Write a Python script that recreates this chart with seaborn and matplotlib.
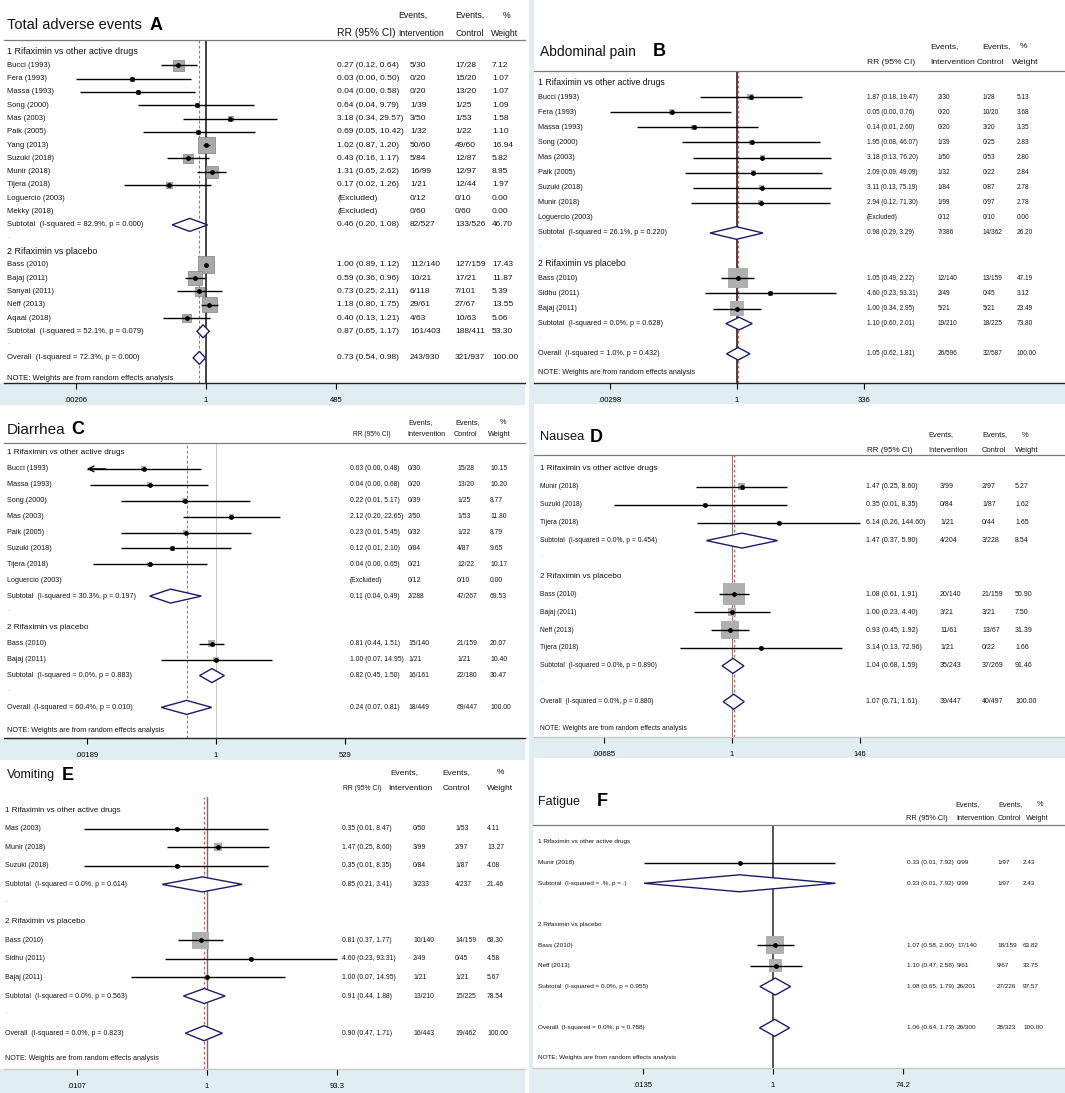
import numpy as np
import matplotlib
matplotlib.use("Agg")
import matplotlib.pyplot as plt
import matplotlib.transforms as mtransforms
from matplotlib.patches import Polygon, Rectangle
from matplotlib.ticker import NullLocator, FixedLocator, FixedFormatter
import seaborn as sns

sns.set_style("white")
plt.rcParams['font.family'] = ['Liberation Sans', 'DejaVu Sans']

W, H = 1065, 1093

HEADINGS = ["1 Rifaximin vs other active drugs", "2 Rifaximin vs placebo"]
NOTE = "NOTE: Weights are from random effects analysis"

# ---------------- A: Total adverse events ----------------
A_STUDIES = ["Bucci (1993)", "Fera (1993)", "Massa (1993)", "Song (2000)", "Mas (2003)", "Paik (2005)",
             "Yang (2013)", "Suzuki (2018)", "Munir (2018)", "Tijera (2018)", "Loguercio (2003)",
             "Mekky (2018)", "Bass (2010)", "Bajaj (2011)", "Sanyal (2011)", "Neff (2013)", "Aqaal (2018)"]
A_N1 = 12
A_RR = [0.27, 0.03, 0.04, 0.64, 3.18, 0.69, 1.02, 0.43, 1.31, 0.17, None, None, 1.00, 0.59, 0.73, 1.18, 0.40]
A_LO = [0.12, 0.0021, 0.0025, 0.04, 0.34, 0.05, 0.87, 0.16, 0.65, 0.02, None, None, 0.89, 0.36, 0.25, 0.80, 0.13]
A_HI = [0.64, 0.50, 0.58, 9.79, 29.57, 10.42, 1.20, 1.17, 2.62, 1.26, None, None, 1.12, 0.96, 2.11, 1.75, 1.21]
A_INT = ["5/30", "0/20", "0/20", "1/39", "3/50", "1/32", "50/60", "5/84", "16/99", "1/21", "0/12", "0/60",
         "112/140", "10/21", "6/118", "29/61", "4/63"]
A_CTL = ["17/28", "15/20", "13/20", "1/25", "1/53", "1/22", "49/60", "12/87", "12/97", "12/44", "0/10", "0/60",
         "127/159", "17/21", "7/101", "27/67", "10/63"]
A_W = [7.12, 1.07, 1.07, 1.09, 1.58, 1.10, 16.94, 5.82, 8.95, 1.97, 0.00, 0.00, 17.43, 11.87, 5.39, 13.55, 5.06]
A_POOL_LABEL = ["Subtotal  (I-squared = 82.9%, p = 0.000)", "Subtotal  (I-squared = 52.1%, p = 0.079)",
                "Overall  (I-squared = 72.3%, p = 0.000)"]
A_POOL_RR = [0.46, 0.87, 0.73]
A_POOL_LO = [0.20, 0.65, 0.54]
A_POOL_HI = [1.08, 1.17, 0.98]
A_POOL_INT = ["82/527", "161/403", "243/930"]
A_POOL_CTL = ["133/526", "188/411", "321/937"]
A_POOL_W = [46.70, 53.30, 100.00]
A_TICKS = [0.00206, 1, 485]
A_TICK_LABELS = [".00206", "1", "485"]

# ---------------- B: Abdominal pain ----------------
B_STUDIES = ["Bucci (1993)", "Fera (1993)", "Massa (1993)", "Song (2000)", "Mas (2003)", "Paik (2005)",
             "Suzuki (2018)", "Munir (2018)", "Loguercio (2003)", "Bass (2010)", "Sidhu (2011)", "Bajaj (2011)"]
B_N1 = 9
B_RR = [1.87, 0.05, 0.14, 1.95, 3.18, 2.09, 3.11, 2.94, None, 1.05, 4.60, 1.00]
B_LO = [0.18, 0.003, 0.01, 0.08, 0.13, 0.09, 0.13, 0.12, None, 0.49, 0.23, 0.34]
B_HI = [19.47, 0.76, 2.60, 46.07, 76.20, 49.09, 75.19, 71.30, None, 2.22, 93.31, 2.95]
B_INT = ["2/30", "0/20", "0/20", "1/39", "1/50", "1/32", "1/84", "1/99", "0/12", "12/140", "2/49", "5/21"]
B_CTL = ["1/28", "10/20", "3/20", "0/25", "0/53", "0/22", "0/87", "0/97", "0/10", "13/159", "0/45", "5/21"]
B_W = [5.13, 3.68, 3.35, 2.83, 2.80, 2.84, 2.78, 2.78, 0.00, 47.19, 3.12, 23.49]
B_POOL_LABEL = ["Subtotal  (I-squared = 26.1%, p = 0.220)", "Subtotal  (I-squared = 0.0%, p = 0.628)",
                "Overall  (I-squared = 1.0%, p = 0.432)"]
B_POOL_RR = [0.98, 1.10, 1.05]
B_POOL_LO = [0.29, 0.60, 0.62]
B_POOL_HI = [3.29, 2.01, 1.81]
B_POOL_INT = ["7/386", "19/210", "26/596"]
B_POOL_CTL = ["14/362", "18/225", "32/587"]
B_POOL_W = [26.20, 73.80, 100.00]
B_TICKS = [0.00298, 1, 336]
B_TICK_LABELS = [".00298", "1", "336"]

# ---------------- C: Diarrhea ----------------
C_STUDIES = ["Bucci (1993)", "Massa (1993)", "Song (2000)", "Mas (2003)", "Paik (2005)", "Suzuki (2018)",
             "Tijera (2018)", "Loguercio (2003)", "Bass (2010)", "Bajaj (2011)"]
C_N1 = 8
C_RR = [0.03, 0.04, 0.22, 2.12, 0.23, 0.12, 0.04, None, 0.81, 1.00]
C_LO = [0.0015, 0.0022, 0.01, 0.20, 0.01, 0.01, 0.0025, None, 0.44, 0.07]
C_HI = [0.48, 0.68, 5.17, 22.65, 5.45, 2.10, 0.65, None, 1.51, 14.95]
C_INT = ["0/30", "0/20", "0/39", "2/50", "0/32", "0/84", "0/21", "0/12", "15/140", "1/21"]
C_CTL = ["15/28", "13/20", "1/25", "1/53", "1/22", "4/87", "12/22", "0/10", "21/159", "1/21"]
C_W = [10.15, 10.20, 8.77, 11.80, 8.79, 9.65, 10.17, 0.00, 20.07, 10.40]
C_POOL_LABEL = ["Subtotal  (I-squared = 30.3%, p = 0.197)", "Subtotal  (I-squared = 0.0%, p = 0.883)",
                "Overall  (I-squared = 60.4%, p = 0.010)"]
C_POOL_RR = [0.11, 0.82, 0.24]
C_POOL_LO = [0.04, 0.45, 0.07]
C_POOL_HI = [0.49, 1.50, 0.81]
C_POOL_INT = ["2/288", "16/161", "18/449"]
C_POOL_CTL = ["47/267", "22/180", "69/447"]
C_POOL_W = [69.53, 30.47, 100.00]
C_TICKS = [0.00189, 1, 529]
C_TICK_LABELS = [".00189", "1", "529"]

# ---------------- D: Nausea ----------------
D_STUDIES = ["Munir (2018)", "Suzuki (2018)", "Tijera (2018)", "Bass (2010)", "Bajaj (2011)", "Neff (2013)",
             "Tijera (2018)"]
D_N1 = 3
D_RR = [1.47, 0.35, 6.14, 1.08, 1.00, 0.93, 3.14]
D_LO = [0.25, 0.01, 0.26, 0.61, 0.23, 0.45, 0.13]
D_HI = [8.60, 8.35, 144.60, 1.91, 4.40, 1.92, 72.96]
D_INT = ["3/99", "0/84", "1/21", "20/140", "3/21", "11/61", "1/21"]
D_CTL = ["2/97", "1/87", "0/44", "21/159", "3/21", "13/67", "0/22"]
D_W = [5.27, 1.62, 1.65, 50.90, 7.50, 31.39, 1.66]
D_POOL_LABEL = ["Subtotal  (I-squared = 0.0%, p = 0.454)", "Subtotal  (I-squared = 0.0%, p = 0.890)",
                "Overall  (I-squared = 0.0%, p = 0.880)"]
D_POOL_RR = [1.47, 1.04, 1.07]
D_POOL_LO = [0.37, 0.68, 0.71]
D_POOL_HI = [5.90, 1.59, 1.61]
D_POOL_INT = ["4/204", "35/243", "39/447"]
D_POOL_CTL = ["3/228", "37/269", "40/497"]
D_POOL_W = [8.54, 91.46, 100.00]
D_TICKS = [0.00685, 1, 146]
D_TICK_LABELS = [".00685", "1", "146"]

# ---------------- E: Vomiting ----------------
E_STUDIES = ["Mas (2003)", "Munir (2018)", "Suzuki (2018)", "Bass (2010)", "Sidhu (2011)", "Bajaj (2011)"]
E_N1 = 3
E_RR = [0.35, 1.47, 0.35, 0.81, 4.60, 1.00]
E_LO = [0.014, 0.25, 0.014, 0.37, 0.23, 0.07]
E_HI = [8.47, 8.60, 8.35, 1.77, 93.31, 14.95]
E_INT = ["0/50", "3/99", "0/84", "10/140", "2/49", "1/21"]
E_CTL = ["1/53", "2/97", "1/87", "14/159", "0/45", "1/21"]
E_W = [4.11, 13.27, 4.08, 68.30, 4.58, 5.67]
E_POOL_LABEL = ["Subtotal  (I-squared = 0.0%, p = 0.614)", "Subtotal  (I-squared = 0.0%, p = 0.563)",
                "Overall  (I-squared = 0.0%, p = 0.823)"]
E_POOL_RR = [0.85, 0.91, 0.90]
E_POOL_LO = [0.21, 0.44, 0.47]
E_POOL_HI = [3.41, 1.88, 1.71]
E_POOL_INT = ["3/233", "13/210", "16/443"]
E_POOL_CTL = ["4/237", "15/225", "19/462"]
E_POOL_W = [21.46, 78.54, 100.00]
E_TICKS = [0.0107, 1, 93.3]
E_TICK_LABELS = [".0107", "1", "93.3"]

# ---------------- F: Fatigue ----------------
F_STUDIES = ["Munir (2018)", "Bass (2010)", "Neff (2013)"]
F_N1 = 1
F_RR = [0.33, 1.07, 1.10]
F_LO = [0.014, 0.58, 0.47]
F_HI = [7.92, 2.00, 2.58]
F_INT = ["0/99", "17/140", "9/61"]
F_CTL = ["1/97", "18/159", "9/67"]
F_W = [2.43, 63.82, 33.75]
F_POOL_LABEL = ["Subtotal  (I-squared = .%, p = .)", "Subtotal  (I-squared = 0.0%, p = 0.955)",
                "Overall  (I-squared = 0.0%, p = 0.788)"]
F_POOL_RR = [0.33, 1.08, 1.06]
F_POOL_LO = [0.014, 0.65, 0.64]
F_POOL_HI = [7.92, 1.79, 1.73]
F_POOL_INT = ["0/99", "26/201", "26/300"]
F_POOL_CTL = ["1/97", "27/226", "28/323"]
F_POOL_W = [2.43, 97.57, 100.00]
F_TICKS = [0.0135, 1, 74.2]
F_TICK_LABELS = [".0135", "1", "74.2"]


def pack(title, letter, studies, n1, rr, lo, hi, iv, ct, w, plab, prr, plo, phi, piv, pct, pw, ticks, tlabs):
    return dict(title=title, letter=letter, studies=studies, n1=n1, rr=rr, lo=lo, hi=hi, iv=iv, ct=ct, w=w,
                plab=plab, prr=prr, plo=plo, phi=phi, piv=piv, pct=pct, pw=pw, ticks=ticks, tlabs=tlabs)


DATA = [
    pack("Total adverse events", "A", A_STUDIES, A_N1, A_RR, A_LO, A_HI, A_INT, A_CTL, A_W, A_POOL_LABEL,
         A_POOL_RR, A_POOL_LO, A_POOL_HI, A_POOL_INT, A_POOL_CTL, A_POOL_W, A_TICKS, A_TICK_LABELS),
    pack("Abdominal pain", "B", B_STUDIES, B_N1, B_RR, B_LO, B_HI, B_INT, B_CTL, B_W, B_POOL_LABEL,
         B_POOL_RR, B_POOL_LO, B_POOL_HI, B_POOL_INT, B_POOL_CTL, B_POOL_W, B_TICKS, B_TICK_LABELS),
    pack("Diarrhea", "C", C_STUDIES, C_N1, C_RR, C_LO, C_HI, C_INT, C_CTL, C_W, C_POOL_LABEL,
         C_POOL_RR, C_POOL_LO, C_POOL_HI, C_POOL_INT, C_POOL_CTL, C_POOL_W, C_TICKS, C_TICK_LABELS),
    pack("Nausea", "D", D_STUDIES, D_N1, D_RR, D_LO, D_HI, D_INT, D_CTL, D_W, D_POOL_LABEL,
         D_POOL_RR, D_POOL_LO, D_POOL_HI, D_POOL_INT, D_POOL_CTL, D_POOL_W, D_TICKS, D_TICK_LABELS),
    pack("Vomiting", "E", E_STUDIES, E_N1, E_RR, E_LO, E_HI, E_INT, E_CTL, E_W, E_POOL_LABEL,
         E_POOL_RR, E_POOL_LO, E_POOL_HI, E_POOL_INT, E_POOL_CTL, E_POOL_W, E_TICKS, E_TICK_LABELS),
    pack("Fatigue", "F", F_STUDIES, F_N1, F_RR, F_LO, F_HI, F_INT, F_CTL, F_W, F_POOL_LABEL,
         F_POOL_RR, F_POOL_LO, F_POOL_HI, F_POOL_INT, F_POOL_CTL, F_POOL_W, F_TICKS, F_TICK_LABELS),
]

# Layout (pixels) and styling per panel
LAYOUT = [
    dict(x0=4, x1=525, bx0=0, bx1=525, row0=52, sp=13.3, header=40, axis=383, band=405, null=206, k=21.02,
         note=378, tx=7, ty=25, tfs=10.5, lx=150, hy1=15, hy2=33, hfs=6.3, rrf=1.18,
         hx=dict(rr=337, iv=398, ct=455, w=491, e1=398, e2=455, pct=503),
         cx=dict(rr=337, iv=410, ct=455, w=492), lab=7, lfs=5.5, dfs=6.0, sfs=6.5, boxk=4.0, dh=6.5,
         nullc="#111111", nulllw=1.1, red=True, hline=True, axc="#222222", boxc="#a9a9a9", boxe="#808080"),
    dict(x0=534, x1=1065, bx0=530, bx1=1065, row0=82, sp=15.1, header=71, axis=383, band=404, null=737,
         k=21.8, note=372, tx=540, ty=52, tfs=10.0, lx=653, hy1=47, hy2=63, hfs=6.1, rrf=1.0,
         hx=dict(rr=867, iv=930, ct=977, w=1012, e1=930, e2=982, pct=1020),
         cx=dict(rr=867, iv=938, ct=983, w=1017), lab=538, lfs=5.25, dfs=4.7, sfs=6.3, boxk=2.9, dh=6.3,
         nullc="#111111", nulllw=1.1, red=True, hline=True, axc="#222222", boxc="#b0b0b0", boxe="none"),
    dict(x0=4, x1=525, bx0=0, bx1=525, row0=453, sp=15.9, header=443, axis=738, band=760, null=216, k=20.6,
         note=730, tx=7, ty=430, tfs=11.0, lx=71, hy1=423, hy2=434, hfs=5.3, rrf=0.9,
         hx=dict(rr=353, iv=407, ct=454, w=488, e1=408, e2=455, pct=500),
         cx=dict(rr=350, iv=408, ct=457, w=490), lab=7, lfs=5.2, dfs=4.9, sfs=5.9, boxk=1.6, dh=7.0,
         nullc="#c8c8c8", nulllw=0.7, red=True, hline=True, axc="#222222", boxc="#b0b0b0", boxe="none"),
    dict(x0=534, x1=1065, bx0=530, bx1=1065, row0=469, sp=17.9, header=455, axis=737, band=758, null=732,
         k=25.7, note=728, tx=540, ty=437, tfs=9.3, lx=590, hy1=435, hy2=450, hfs=5.4, rrf=1.07,
         hx=dict(rr=867, iv=928, ct=982, w=1015, e1=928, e2=982, pct=1022),
         cx=dict(rr=866, iv=940, ct=982, w=1015), lab=540, lfs=4.85, dfs=5.0, sfs=5.9, boxk=3.1, dh=7.5,
         nullc="#808080", nulllw=0.8, red=True, hline=True, axc="#c8c8c8", boxc="#b0b0b0", boxe="none"),
    dict(x0=4, x1=525, bx0=0, bx1=525, row0=810, sp=18.6, header=797, axis=1069, band=1093, null=207, k=28.7,
         note=1059, tx=7, ty=775, tfs=9.0, lx=62, hy1=773, hy2=789, hfs=6.0, rrf=0.81,
         hx=dict(rr=343, iv=388, ct=443, w=487, e1=390, e2=442, pct=497),
         cx=dict(rr=342, iv=413, ct=455, w=487), lab=5, lfs=5.0, dfs=4.9, sfs=5.8, boxk=2.06, dh=7.5,
         nullc="#707070", nulllw=1.0, red=True, hline=False, axc="#c8c8c8", boxc="#b0b0b0", boxe="none"),
    dict(x0=533, x1=1065, bx0=530, bx1=1065, row0=842, sp=20.65, header=825, axis=1068, band=1093, null=773,
         k=30.2, note=1058, tx=538, ty=802, tfs=9.0, lx=597, hy1=805, hy2=819, hfs=5.3, rrf=1.0,
         hx=dict(rr=906, iv=956, ct=998, w=1026, e1=955, e2=998, pct=1037),
         cx=dict(rr=907, iv=957, ct=997, w=1023), lab=538, lfs=4.55, dfs=4.6, sfs=4.6, boxk=2.25, dh=8.5,
         nullc="#555555", nulllw=1.4, red=False, hline=True, axc="#c8c8c8", boxc="#b0b0b0", boxe="none"),
]

BAND = "#e0eef2"
TXT = "#141414"
NAVY = "#1c1c6a"
REDC = "#e05555"


def fx(x):
    return x / W


def fy(y):
    return 1 - y / H


def fmt_ci(r, l, h):
    return f"{r:.2f} ({l:.2f}, {h:.2f})"


fig = plt.figure(figsize=(W / 100, H / 100), dpi=100)
fig.patch.set_facecolor("white")

# light strip along the left side of right column
fig.add_artist(Rectangle((fx(529), 0), fx(5), 1, transform=fig.transFigure, color=BAND, zorder=0, lw=0))

for D, L in zip(DATA, LAYOUT):
    # axis band
    fig.add_artist(Rectangle((fx(L['bx0']), fy(L['band'])), fx(L['bx1'] - L['bx0']),
                             (L['band'] - L['axis']) / H, transform=fig.transFigure, color=BAND, zorder=0, lw=0))
    ax = fig.add_axes([fx(L['x0']), fy(L['axis']), fx(L['x1'] - L['x0']), (L['axis'] - L['header']) / H])
    ax.set_xscale('log')
    sp, r0 = L['sp'], L['row0']
    tick_lo, tick_hi = D['ticks'][0], D['ticks'][-1]

    # assemble row positions
    n = len(D['studies'])
    groups = [list(range(0, D['n1'])), list(range(D['n1'], n))]
    row = 0
    head_rows, study_rows, pool_rows, dot_rows = [], [0] * n, [], []
    for g in groups:
        head_rows.append(row)
        row += 1
        for i in g:
            study_rows[i] = row
            row += 1
        pool_rows.append(row)
        row += 1
        dot_rows.append(row)
        row += 1
    pool_rows.append(row)

    trans = mtransforms.blended_transform_factory(fig.transFigure, ax.transData)
    cx = L['cx']

    # reference lines
    ax.axvline(1, color=L['nullc'], lw=L['nulllw'], zorder=1)
    if L['red']:
        ax.axvline(D['prr'][-1], color=REDC, lw=0.8, ls=(0, (2.5, 2.0)), zorder=1.5)

    # studies
    px, py, bs = [], [], []
    for i in range(n):
        r = study_rows[i]
        ax.text(fx(L['lab']), r, D['studies'][i], transform=trans, fontsize=L['lfs'], va='center', color=TXT)
        if D['rr'][i] is None:
            ctext = "(Excluded)"
        else:
            ctext = fmt_ci(D['rr'][i], D['lo'][i], D['hi'][i])
            lo_c = max(D['lo'][i], tick_lo)
            hi_c = min(D['hi'][i], tick_hi * 1.02)
            ax.hlines(r, lo_c, hi_c, color='black', lw=1.0, zorder=3)
            if D['lo'][i] < tick_lo:
                ax.annotate('', xy=(tick_lo, r), xytext=(tick_lo * 2.5, r),
                            arrowprops=dict(arrowstyle='->', lw=1.0, color='black',
                                            mutation_scale=10, shrinkA=0, shrinkB=0))
            px.append(D['rr'][i])
            py.append(r)
            side_pt = L['boxk'] * np.sqrt(D['w'][i]) * 0.72
            bs.append(side_pt ** 2)
        ax.text(fx(cx['rr']), r, ctext, transform=trans, fontsize=L['dfs'], va='center', color=TXT)
        ax.text(fx(cx['iv']), r, D['iv'][i], transform=trans, fontsize=L['dfs'], va='center', color=TXT)
        ax.text(fx(cx['ct']), r, D['ct'][i], transform=trans, fontsize=L['dfs'], va='center', color=TXT)
        ax.text(fx(cx['w']), r, f"{D['w'][i]:.2f}", transform=trans, fontsize=L['dfs'], va='center', color=TXT)

    ax.scatter(px, py, marker='s', s=bs, color=L['boxc'], edgecolors=L['boxe'], linewidths=0.5, zorder=2)
    sns.scatterplot(x=px, y=py, ax=ax, color='black', s=12, marker='o', linewidth=0, zorder=4, legend=False)

    # pooled diamonds
    dh = L['dh'] / sp
    for j, r in enumerate(pool_rows):
        rr_, lo_, hi_ = D['prr'][j], D['plo'][j], D['phi'][j]
        poly = Polygon([(max(lo_, tick_lo), r), (rr_, r - dh), (min(hi_, tick_hi), r), (rr_, r + dh)],
                       closed=True, facecolor='white', edgecolor=NAVY, lw=1.0, zorder=3)
        ax.add_patch(poly)
        ax.text(fx(L['lab']), r, D['plab'][j], transform=trans, fontsize=L['lfs'], va='center', color=TXT)
        ax.text(fx(cx['rr']), r, fmt_ci(rr_, lo_, hi_), transform=trans, fontsize=L['dfs'], va='center', color=TXT)
        ax.text(fx(cx['iv']), r, D['piv'][j], transform=trans, fontsize=L['dfs'], va='center', color=TXT)
        ax.text(fx(cx['ct']), r, D['pct'][j], transform=trans, fontsize=L['dfs'], va='center', color=TXT)
        ax.text(fx(cx['w']), r, f"{D['pw'][j]:.2f}", transform=trans, fontsize=L['dfs'], va='center', color=TXT)

    for j, r in enumerate(head_rows):
        ax.text(fx(L['lab']), r, HEADINGS[j], transform=trans, fontsize=L['sfs'], va='center', color=TXT)
    for r in dot_rows:
        ax.text(fx(L['lab']), r - 0.15, ".", transform=trans, fontsize=L['lfs'], va='center', color="#e08a2a")
    ax.text(fx(L['lab']), (L['note'] - r0) / sp, NOTE, transform=trans, fontsize=L['lfs'], va='center',
            color=TXT)

    # scales
    ax.set_xlim(np.exp((L['x0'] - L['null']) / L['k']), np.exp((L['x1'] - L['null']) / L['k']))
    ax.set_ylim((L['axis'] - r0) / sp, (L['header'] - r0) / sp)
    ax.xaxis.set_major_locator(FixedLocator(D['ticks']))
    ax.xaxis.set_major_formatter(FixedFormatter(D['tlabs']))
    ax.xaxis.set_minor_locator(NullLocator())
    ax.set_yticks([])
    ax.set_xlabel("")
    ax.set_ylabel("")
    ax.tick_params(axis='x', direction='out', length=4, width=0.8, labelsize=5.5, pad=6,
                   colors='black', bottom=True)
    for s in ['left', 'right']:
        ax.spines[s].set_visible(False)
    ax.spines['bottom'].set_color(L['axc'])
    ax.spines['bottom'].set_linewidth(1.0)
    if L['hline']:
        ax.spines['top'].set_color('#7a7a7a')
        ax.spines['top'].set_linewidth(0.9)
    else:
        ax.spines['top'].set_visible(False)
    ax.set_facecolor('white')

    # title and header texts
    fig.text(fx(L['tx']), fy(L['ty']), D['title'], fontsize=L['tfs'], va='center', ha='left', color=TXT)
    fig.text(fx(L['lx']), fy(L['ty']), D['letter'], fontsize=13, fontweight='bold', va='center', ha='left',
             color='black')
    hx = L['hx']
    fig.text(fx(hx['e1']), fy(L['hy1']), "Events,", fontsize=L['hfs'], va='center', color=TXT)
    fig.text(fx(hx['e2']), fy(L['hy1']), "Events,", fontsize=L['hfs'], va='center', color=TXT)
    fig.text(fx(hx['pct']), fy(L['hy1']), "%", fontsize=L['hfs'], va='center', color=TXT)
    fig.text(fx(hx['rr']), fy(L['hy2']), "RR (95% CI)", fontsize=L['hfs'] * L['rrf'], va='center', color=TXT)
    fig.text(fx(hx['iv']), fy(L['hy2']), "Intervention", fontsize=L['hfs'], va='center', color=TXT)
    fig.text(fx(hx['ct']), fy(L['hy2']), "Control", fontsize=L['hfs'], va='center', color=TXT)
    fig.text(fx(hx['w']), fy(L['hy2']), "Weight", fontsize=L['hfs'], va='center', color=TXT)

fig.savefig("out.png", dpi=100)
